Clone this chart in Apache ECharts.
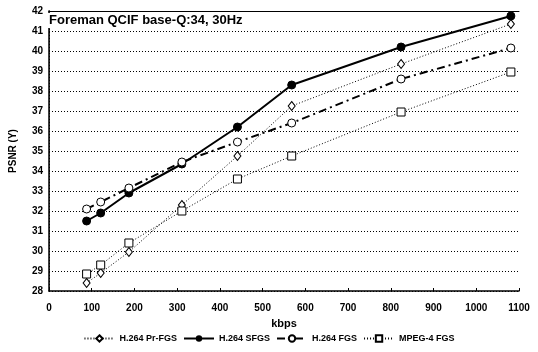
<!DOCTYPE html>
<html>
<head>
<meta charset="utf-8">
<script src="https://cdn.jsdelivr.net/npm/echarts@6/dist/echarts.min.js"></script>
<style>html,body{margin:0;padding:0;background:#fff}#main{width:538px;height:352px}</style>
</head>
<body>
<div id="main"></div>
<script>
// bitrate (kbps) shared by all curves
var kbps = [88, 121, 187, 311, 441, 568, 824, 1081];
var prFgs = [28.4, 28.9, 29.95, 32.3, 34.75, 37.25, 39.35, 41.35];
var sFgs = [31.5, 31.9, 32.9, 34.35, 36.2, 38.3, 40.2, 41.75];
var fgs = [32.1, 32.45, 33.15, 34.45, 35.45, 36.4, 38.6, 40.15];
var mpeg4 = [28.85, 29.3, 30.4, 32.0, 33.6, 34.75, 36.95, 38.95];
var names = ['H.264 Pr-FGS', 'H.264 SFGS', 'H.264 FGS', 'MPEG-4 FGS'];
var titleText = 'Foreman QCIF base-Q:34, 30Hz';

function pairs(ys) {
    return kbps.map(function (x, i) { return [x, ys[i]]; });
}

var font = 'Arial, "Liberation Sans", sans-serif';
var myChart = echarts.init(document.getElementById('main'));

myChart.setOption({
    animation: false,
    graphic: [{
        type: 'text', left: 48, top: 13, z: 100,
        style: {
            text: titleText, fill: '#000',
            font: 'bold 13px ' + font,
            backgroundColor: '#fff', padding: [1, 2, 1, 1]
        }
    }],
    legend: {
        data: names,
        bottom: 4,
        left: 'center',
        itemGap: 6,
        itemWidth: 30,
        itemHeight: 8,
        textStyle: { fontFamily: font, fontSize: 9, fontWeight: 'bold', color: '#000' }
    },
    grid: { left: 45, right: 19, top: 11, bottom: 61 },
    xAxis: [{
        type: 'value', min: 0, max: 1100, interval: 100,
        name: 'kbps', nameLocation: 'middle', nameGap: 27,
        nameTextStyle: { fontFamily: font, fontSize: 11, fontWeight: 'bold', color: '#000' },
        axisLine: { lineStyle: { color: '#000', width: 1.5 } },
        axisTick: { inside: true, length: 3, lineStyle: { color: '#000' } },
        axisLabel: {
            fontFamily: font, fontSize: 10, fontWeight: 'bold', color: '#000', margin: 12,
            formatter: function (v) { return String(v); }
        },
        splitLine: { show: false }
    }, {
        type: 'value', position: 'top', min: 0, max: 1100,
        axisLine: { show: true, lineStyle: { color: '#000', width: 1 } },
        axisTick: { show: false }, axisLabel: { show: false }, splitLine: { show: false }
    }],
    yAxis: [{
        type: 'value', min: 28, max: 42, interval: 1,
        name: 'PSNR (Y)', nameLocation: 'middle', nameGap: 31, nameRotate: 90,
        nameTextStyle: { fontFamily: font, fontSize: 10, fontWeight: 'bold', color: '#000' },
        axisLine: { show: true, lineStyle: { color: '#000', width: 1.5 } },
        axisTick: { show: false },
        axisLabel: { fontFamily: font, fontSize: 10, fontWeight: 'bold', color: '#000', margin: 6 },
        splitLine: { lineStyle: { color: '#000', type: [1, 2], width: 1 } }
    }, {
        type: 'value', position: 'right', min: 28, max: 42,
        axisLine: { show: true, lineStyle: { color: '#000', type: [1, 2], width: 1 } },
        axisTick: { show: false }, axisLabel: { show: false }, splitLine: { show: false }
    }],
    series: [{
        name: names[0], type: 'line', data: pairs(prFgs),
        symbol: 'diamond', symbolSize: [7, 9],
        itemStyle: { color: '#fff', borderColor: '#000', borderWidth: 1 },
        lineStyle: { color: '#000', width: 1, type: [1, 2] }
    }, {
        name: names[1], type: 'line', data: pairs(sFgs),
        symbol: 'circle', symbolSize: 8,
        itemStyle: { color: '#000', borderColor: '#000' },
        lineStyle: { color: '#000', width: 2 }
    }, {
        name: names[2], type: 'line', data: pairs(fgs),
        symbol: 'circle', symbolSize: 8,
        itemStyle: { color: '#fff', borderColor: '#000', borderWidth: 1 },
        lineStyle: { color: '#000', width: 2, type: [8, 4, 2, 4] }
    }, {
        name: names[3], type: 'line', data: pairs(mpeg4),
        symbol: 'rect', symbolSize: 8,
        itemStyle: { color: '#fff', borderColor: '#000', borderWidth: 1 },
        lineStyle: { color: '#000', width: 1, type: [1, 2] }
    }]
});
</script>
</body>
</html>
